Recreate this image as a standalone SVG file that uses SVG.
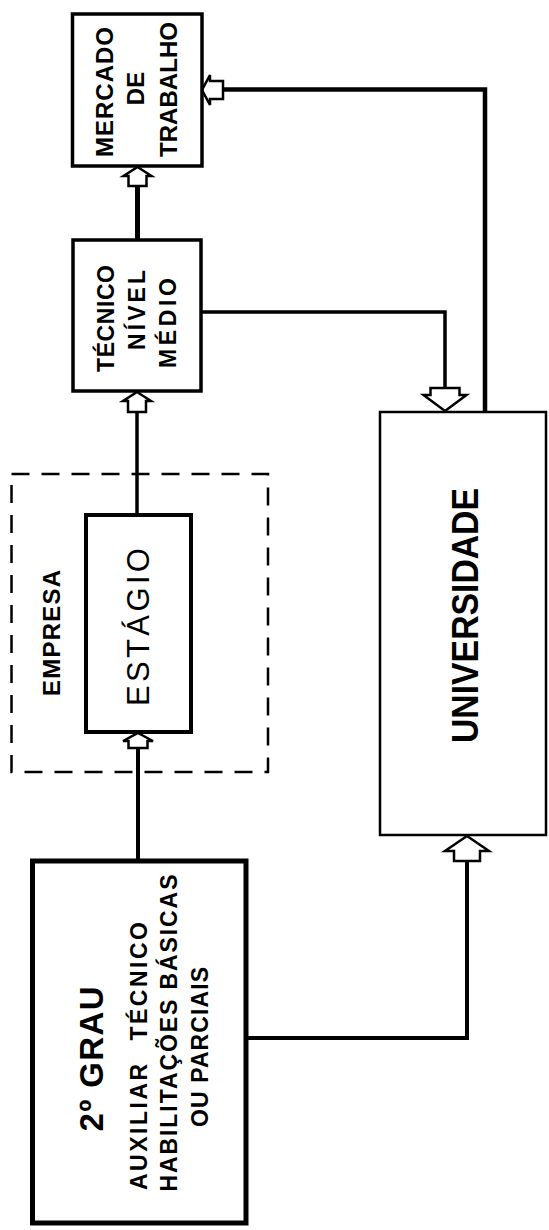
<svg xmlns="http://www.w3.org/2000/svg" width="549" height="1230" viewBox="0 0 549 1230">
<style>
.box{fill:#fff;stroke:#000}
.ln{fill:none;stroke:#000;stroke-linejoin:miter;stroke-linecap:butt}
.ar{fill:#fff;stroke:#000;stroke-width:2.5;stroke-linejoin:miter}
.t{font-family:"Liberation Sans",Arial,sans-serif;font-weight:bold;fill:#000;text-anchor:middle}
.r{font-weight:normal}
</style>
<rect width="549" height="1230" fill="#fff"/>
<g id="connectors">
<path class="ln" d="M137.5 186 V240" stroke-width="5"/>
<path class="ln" d="M137 412 V515" stroke-width="3.5"/>
<path class="ln" d="M138 748 V861" stroke-width="4"/>
<path class="ln" d="M223 89.5 H485 V412" stroke-width="4.5"/>
<path class="ln" d="M201 312 H445 V388" stroke-width="3.5"/>
<path class="ln" d="M246 1038 H467 V861" stroke-width="4"/>
<polygon class="ar" points="137.5,167 151.5,176 146.5,176 146.5,186 128.5,186 128.5,176 123.5,176"/>
<polygon class="ar" points="137,392 151,401 146,401 146,412 128,412 128,401 123,401"/>
<polygon class="ar" points="138,733 153,741 147.5,741 147.5,748 128.5,748 128.5,741 123,741"/>
<polygon class="ar" points="445,411 466.5,395 459.5,395 459.5,388 430.5,388 430.5,395 423.5,395"/>
<polygon class="ar" points="467,836 489,851 480,851 480,861 454,861 454,851 445,851"/>
<polygon class="ar" points="202,90 210,75 210,81 223,81 223,99 210,99 210,105"/>
</g>
<g id="mercado">
<rect class="box" x="72.5" y="14" width="129.5" height="152" stroke-width="3.5"/>
<text class="t" font-size="24" transform="translate(112.6 92) rotate(-90)" textLength="130">MERCADO</text>
<text class="t" font-size="24" transform="translate(144.1 88.5) rotate(-90)">DE</text>
<text class="t" font-size="24" transform="translate(177.1 89.5) rotate(-90)" textLength="135">TRABALHO</text>
</g>
<g id="tecnico">
<rect class="box" x="73" y="240" width="128" height="151" stroke-width="3.5"/>
<text class="t" font-size="23" transform="translate(113.5 318.5) rotate(-90)" textLength="107">TÉCNICO</text>
<text class="t" font-size="23" transform="translate(145 310) rotate(-90)" textLength="80">NÍVEL</text>
<text class="t" font-size="23" transform="translate(175.8 323) rotate(-90)" textLength="90">MÉDIO</text>
</g>
<g id="empresa">
<rect x="11.5" y="474" width="256.5" height="298" fill="none" stroke="#000" stroke-width="2.5" stroke-dasharray="18 12"/>
<text class="t" font-size="24" transform="translate(59.6 633) rotate(-90)" textLength="126">EMPRESA</text>
</g>
<g id="estagio">
<rect class="box" x="86" y="515" width="105" height="217" stroke-width="4"/>
<text class="t r" font-size="31" transform="translate(148.6 627) rotate(-90)" textLength="158">ESTÁGIO</text>
</g>
<g id="universidade">
<rect class="box" x="380" y="412" width="166" height="423" stroke-width="2.5"/>
<text class="t" font-size="36" transform="translate(477.9 615.5) rotate(-90)" textLength="255" lengthAdjust="spacingAndGlyphs">UNIVERSIDADE</text>
</g>
<g id="segundo-grau">
<rect class="box" x="32.5" y="861" width="213.5" height="362" stroke-width="5"/>
<text class="t" font-size="33" transform="translate(102.8 1059) rotate(-90)" textLength="145">2º GRAU</text>
<text class="t" font-size="23" word-spacing="12" transform="translate(147.2 1056) rotate(-90)" textLength="268">AUXILIAR TÉCNICO</text>
<text class="t" font-size="23" transform="translate(176.7 1033) rotate(-90)" textLength="317">HABILITAÇÕES BÁSICAS</text>
<text class="t" font-size="23" transform="translate(208.2 1047) rotate(-90)" textLength="160">OU PARCIAIS</text>
</g>
</svg>
